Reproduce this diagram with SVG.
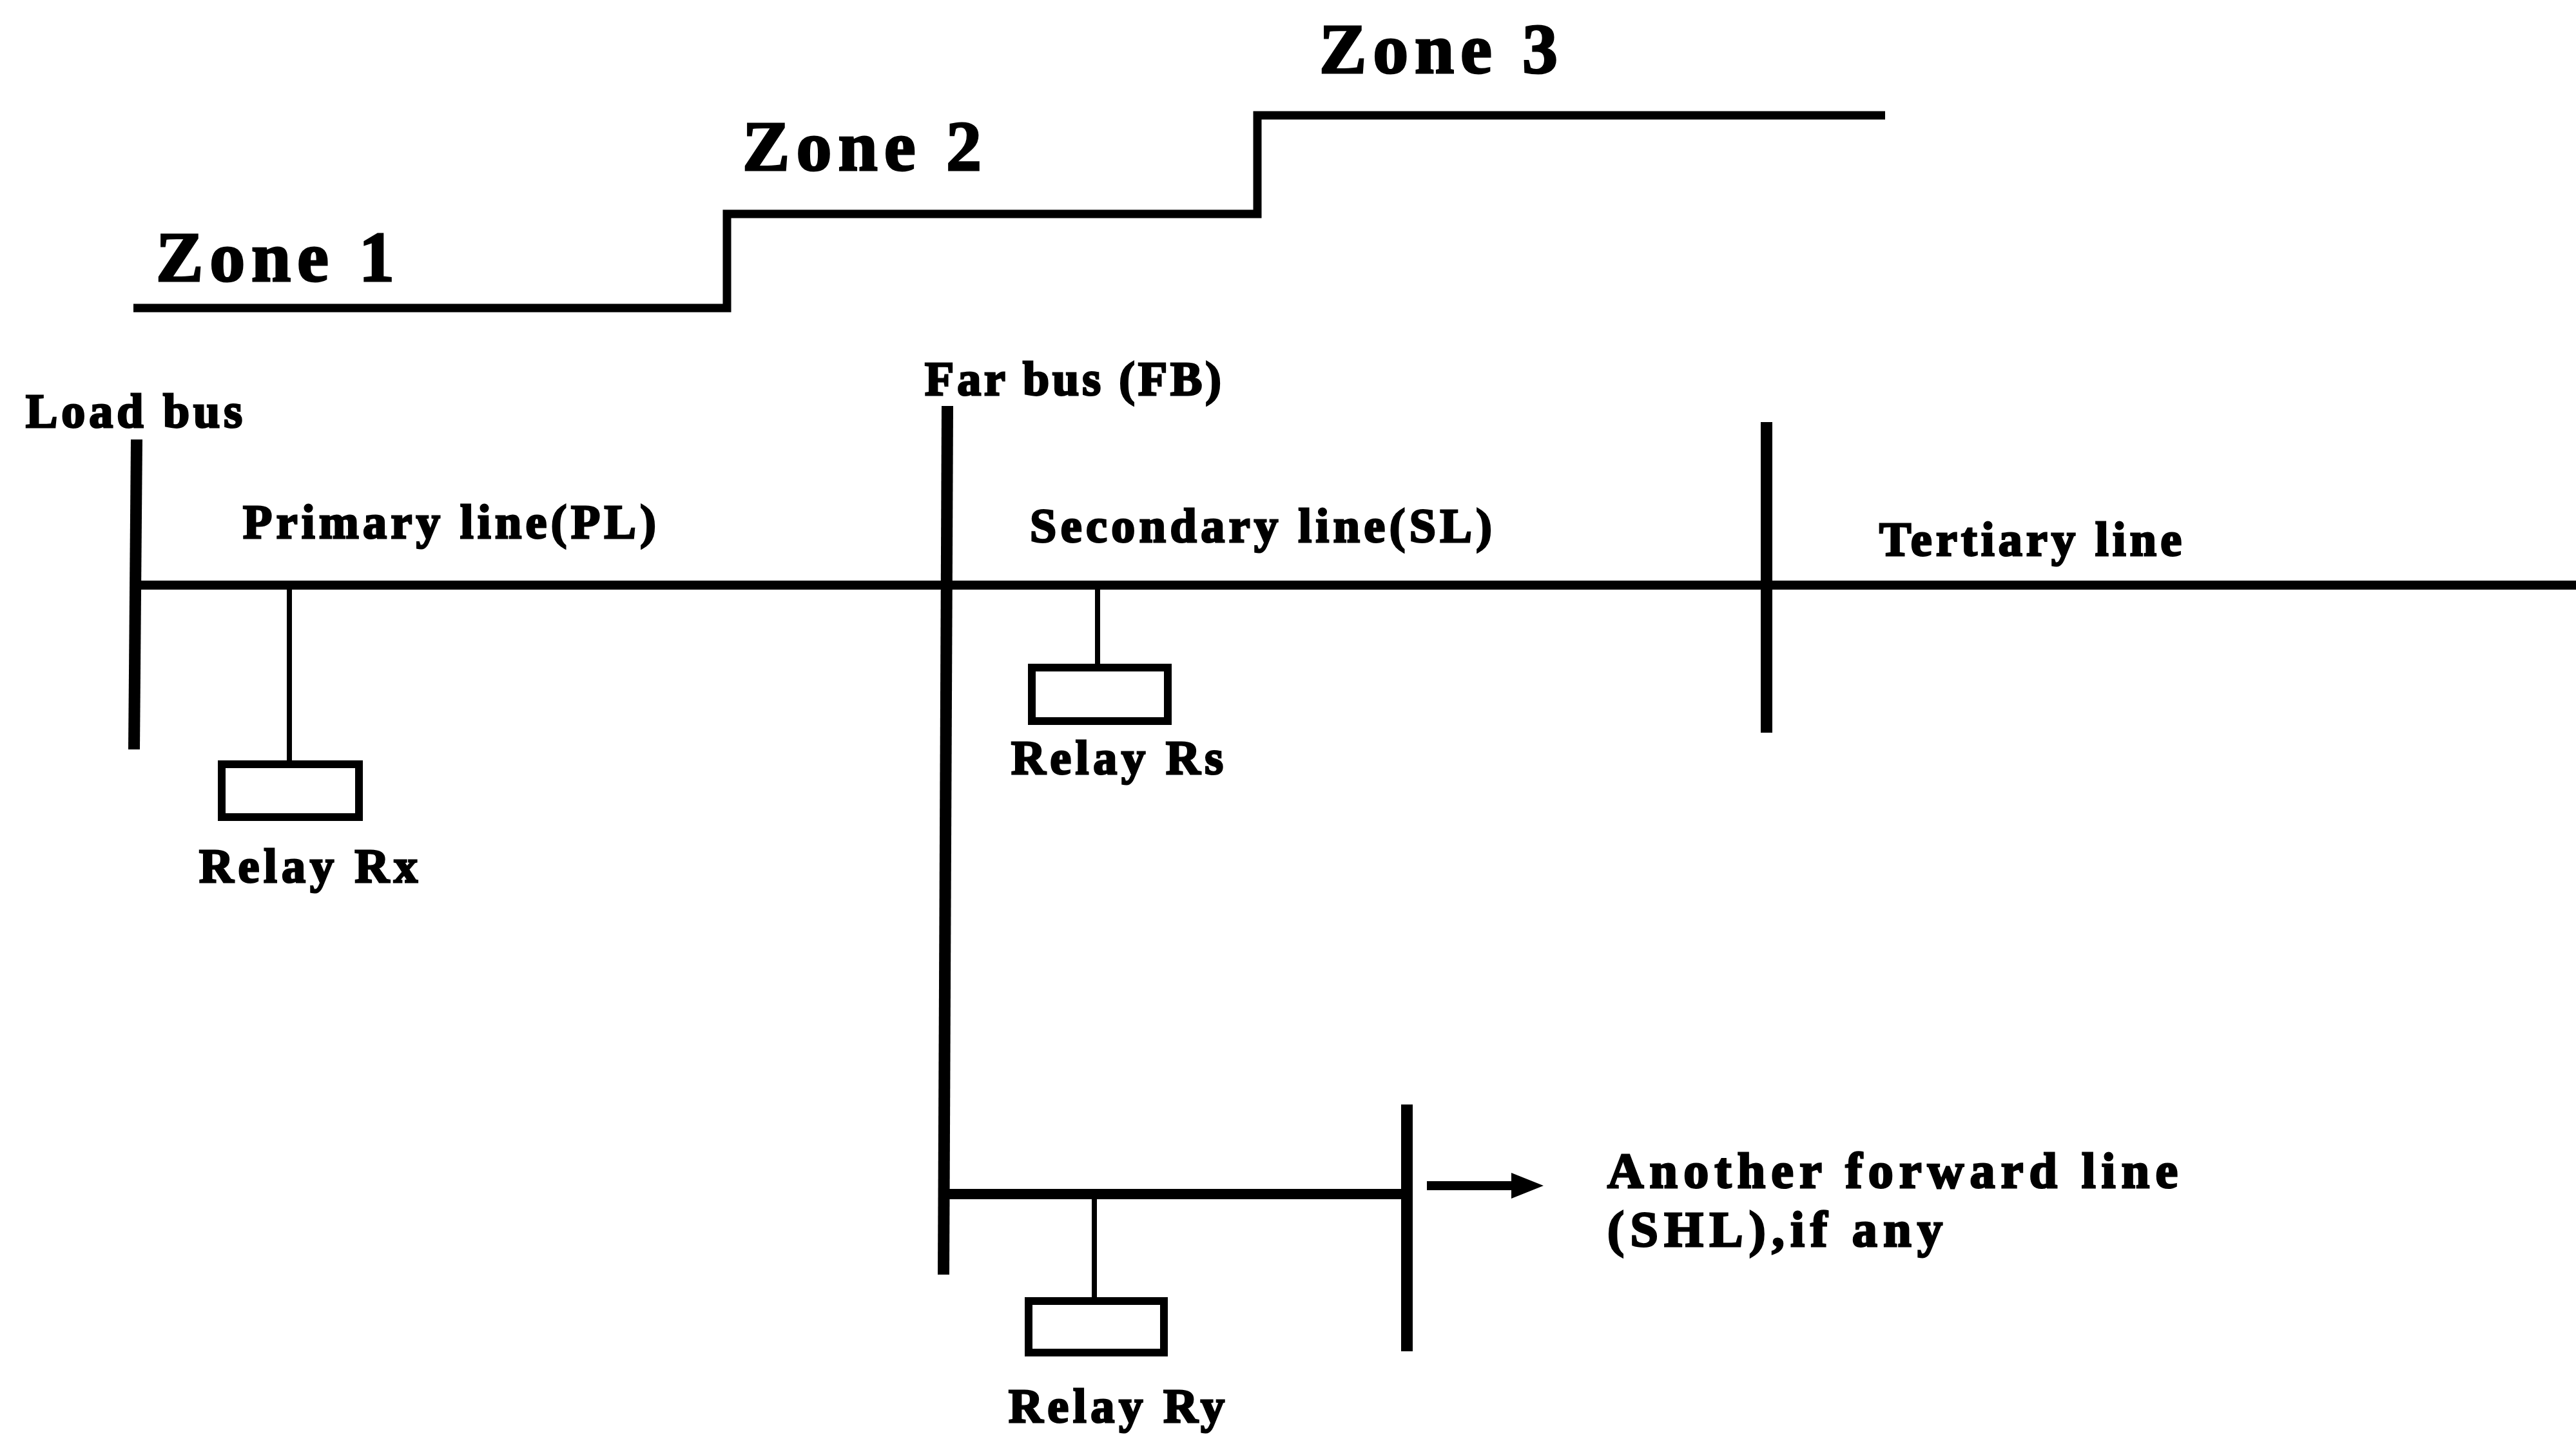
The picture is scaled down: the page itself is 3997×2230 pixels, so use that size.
<svg xmlns="http://www.w3.org/2000/svg" width="3997" height="2230" viewBox="0 0 3997 2230">
<style>
text{font-family:"Liberation Serif","Times New Roman",serif;font-weight:bold;fill:#000;stroke:#000;stroke-width:3;white-space:pre}
.z{font-size:110px}
.l{font-size:74px}
.a{font-size:78px}
.w{fill:none;stroke:#000;stroke-linecap:butt}
.box{fill:#fff;stroke:#000;stroke-width:12}
</style>
<defs><marker id="arrow" markerUnits="userSpaceOnUse" markerWidth="52" markerHeight="44" refX="1" refY="22" orient="auto"><path d="M0 2L50 22L0 42Z" fill="#000"/></marker></defs>
<rect width="3997" height="2230" fill="#fff"/>
<g id="connectors">
<path class="w" stroke-width="13" d="M207 478H1128V332H1951V179H2925"/>
<path class="w" stroke-width="14" d="M210 908H3997"/>
<path class="w" stroke-width="16" d="M1468 1853H2183"/>
<path class="w" stroke-width="8" d="M449 908V1185"/>
<path class="w" stroke-width="8" d="M1703 908V1035"/>
<path class="w" stroke-width="8" d="M1698 1853V2018"/>
<path class="w" stroke-width="14" marker-end="url(#arrow)" d="M2214 1840H2346"/>
</g>
<g id="load-bus"><path class="w" stroke-width="18" stroke-linecap="round" d="M212 682L208 1163"/><text class="l" x="40" y="663" textLength="336" lengthAdjust="spacing">Load bus</text></g>
<g id="far-bus"><path class="w" stroke-width="18" stroke-linecap="round" d="M1470 630L1464 1978"/><text class="l" x="1435" y="613" textLength="460" lengthAdjust="spacing">Far bus (FB)</text></g>
<g id="third-bus"><path class="w" stroke-width="18" stroke-linecap="round" d="M2741 655V1137"/></g>
<g id="fourth-bus"><path class="w" stroke-width="18" stroke-linecap="round" d="M2183 1714V2097"/></g>
<g id="zone-1"><text class="z" x="242" y="436" textLength="370" lengthAdjust="spacing">Zone 1</text></g>
<g id="zone-2"><text class="z" x="1152" y="264" textLength="371" lengthAdjust="spacing">Zone 2</text></g>
<g id="zone-3"><text class="z" x="2047" y="113" textLength="370" lengthAdjust="spacing">Zone 3</text></g>
<g id="primary-line"><text class="l" x="377" y="835" textLength="641" lengthAdjust="spacing">Primary line(PL)</text></g>
<g id="secondary-line"><text class="l" x="1598" y="841" textLength="717" lengthAdjust="spacing">Secondary line(SL)</text></g>
<g id="tertiary-line"><text class="l" x="2916" y="862" textLength="469" lengthAdjust="spacing">Tertiary line</text></g>
<g id="relay-rx"><rect class="box" x="344" y="1186" width="213" height="82"/><text class="l" x="309" y="1369" textLength="339" lengthAdjust="spacing">Relay Rx</text></g>
<g id="relay-rs"><rect class="box" x="1601" y="1036" width="211" height="83"/><text class="l" x="1569" y="1201" textLength="329" lengthAdjust="spacing">Relay Rs</text></g>
<g id="relay-ry"><rect class="box" x="1596" y="2019" width="210" height="80"/><text class="l" x="1565" y="2207" textLength="335" lengthAdjust="spacing">Relay Ry</text></g>
<g id="another-line"><text class="a" x="2494" y="1843" textLength="885" lengthAdjust="spacing">Another forward line</text><text class="a" x="2494" y="1934" textLength="520" lengthAdjust="spacing">(SHL),if any</text></g>
</svg>
